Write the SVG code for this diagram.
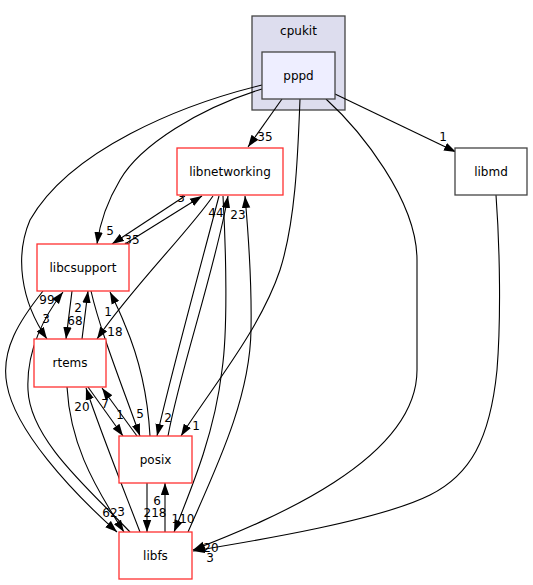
<svg xmlns="http://www.w3.org/2000/svg" width="533" height="585" viewBox="0 0 533 585">
<defs>
<marker id="ah" viewBox="0 0 10 7" refX="10" refY="3.5" markerWidth="12" markerHeight="9" markerUnits="userSpaceOnUse" orient="auto">
<path d="M0,0 L10,3.5 L0,7 Z" fill="#000"/>
</marker>
<style>
.n text, text.t { font-family: "DejaVu Sans", "Liberation Sans", sans-serif; font-size: 12px; fill: #000; text-anchor: middle; }
.red { fill: #fff; stroke: #ff3030; stroke-width: 1.3; }
.gray { fill: #fff; stroke: #444; stroke-width: 1.3; }
.e path { fill: none; stroke: #000; stroke-width: 1.1; marker-end: url(#ah); }
.e text { font-family: "DejaVu Sans", "Liberation Sans", sans-serif; font-size: 12px; fill: #000; text-anchor: middle; }
</style>
</defs>
<rect width="533" height="585" fill="#fff"/>
<g id="cluster_cpukit">
<rect x="252" y="16" width="93" height="94" fill="#ddddee" stroke="#444" stroke-width="1.3"/>
<text class="t" x="298.5" y="35">cpukit</text>
</g>
<g id="edges" class="e">
<path d="M282,99 L248,147"/>
<text x="265" y="141">35</text>
<path d="M335,94 L456,152"/>
<text x="443" y="141">1</text>
<path d="M262,89 C200,108 140,145 120,180 C108,200 100,222 97,244"/>
<text x="110" y="235">5</text>
<path d="M262,85 C180,105 70,150 30,220 C15,255 20,300 47,339"/>
<text x="46" y="323">3</text>
<path d="M300,99 C298,150 296,220 280,270 C260,330 210,390 181,436"/>
<text x="196" y="430">1</text>
<path d="M326,99 C360,130 417,200 417,260 L417,370 C417,460 270,520 193,550"/>
<text x="210" y="562">3</text>
<path d="M496,195 C500,250 501,320 497,370 C490,440 470,475 430,495 C380,520 260,540 193,551"/>
<text x="211" y="552">20</text>
<path d="M185,196 L112,244"/>
<text x="132" y="244">35</text>
<path d="M125,244 L202,196"/>
<text x="181" y="202">3</text>
<path d="M213,196 C190,230 130,290 97,339"/>
<text x="115" y="336">18</text>
<path d="M219,196 C205,250 172,370 157,436"/>
<text x="168" y="422">2</text>
<path d="M168,436 C180,370 215,270 228,196"/>
<text x="216" y="217">44</text>
<path d="M188,532 C215,470 250,400 251,330 C252,280 248,230 245,196"/>
<text x="238" y="219">23</text>
<path d="M223,196 C226,250 228,330 222,370 C215,430 195,480 174,532"/>
<text x="183" y="523">110</text>
<path d="M72,291 L66,339"/>
<text x="75" y="325">68</text>
<path d="M82,339 L88,291"/>
<text x="78" y="312">2</text>
<path d="M91,291 C100,330 120,380 140,436"/>
<text x="140" y="418">5</text>
<path d="M150,436 C148,400 140,360 125,325 C120,312 115,302 110,292"/>
<text x="108" y="316">1</text>
<path d="M43,291 C20,320 0,350 7,385 C15,430 70,490 117,532"/>
<text x="110" y="517">62</text>
<path d="M130,532 C90,490 30,440 28,390 C26,350 45,315 63,292"/>
<text x="47" y="304">99</text>
<path d="M67,387 C70,440 90,480 124,532"/>
<text x="121" y="516">3</text>
<path d="M140,532 C120,480 100,430 86,388"/>
<text x="82" y="411">20</text>
<path d="M88,387 L123,436"/>
<text x="120" y="419">1</text>
<path d="M137,436 L102,388"/>
<text x="105" y="408">7</text>
<path d="M147,483 L147,532"/>
<text x="155" y="517">218</text>
<path d="M165,532 L165,483"/>
<text x="157" y="505">6</text>
</g>
<g id="pppd" class="n">
<rect x="262" y="52" width="73" height="47" fill="#eeeeff" stroke="#444" stroke-width="1.3"/>
<text x="298.5" y="79.5">pppd</text>
</g>
<g id="libmd" class="n">
<rect class="gray" x="455" y="148" width="72" height="47"/>
<text x="491" y="175.5">libmd</text>
</g>
<g id="libnetworking" class="n">
<rect class="red" x="177" y="148" width="106" height="47"/>
<text x="230" y="175.5">libnetworking</text>
</g>
<g id="libcsupport" class="n">
<rect class="red" x="37" y="244" width="92" height="47"/>
<text x="83" y="271.5">libcsupport</text>
</g>
<g id="rtems" class="n">
<rect class="red" x="34" y="339" width="72" height="48"/>
<text x="70" y="367">rtems</text>
</g>
<g id="posix" class="n">
<rect class="red" x="119" y="436" width="73" height="47"/>
<text x="155.5" y="463.5">posix</text>
</g>
<g id="libfs" class="n">
<rect class="red" x="119" y="532" width="73" height="47"/>
<text x="155.5" y="559.5">libfs</text>
</g>
</svg>
